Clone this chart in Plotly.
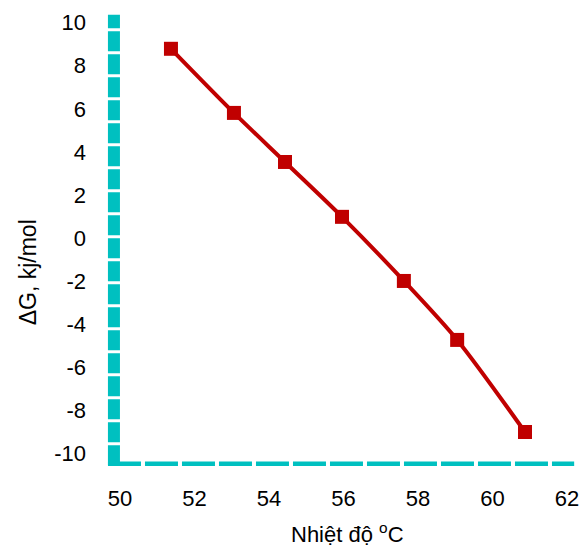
import plotly.graph_objects as go

temperature = [51.37, 53.06, 54.43, 55.96, 57.62, 59.05, 60.87]
delta_g = [8.79, 5.81, 3.53, 0.98, -2.0, -4.74, -9.02]
x_ticks = [50, 52, 54, 56, 58, 60, 62]
y_ticks = [10, 8, 6, 4, 2, 0, -2, -4, -6, -8, -10]
y_tick_text = ["10", "8", "6", "4", "2", "0", "-2", "-4", "-6", "-8", "-10"]

FONT = "Liberation Sans, Arial, sans-serif"
TEAL = "#00C0C0"
RED = "#C00000"

fig = go.Figure()
fig.add_trace(go.Scatter(
    x=temperature, y=delta_g, mode="lines+markers",
    line=dict(color=RED, width=4, shape="spline", smoothing=0.8),
    marker=dict(symbol="square", size=14, color=RED),
    showlegend=False,
))

# dashed axis lines
fig.add_shape(type="line", xref="x", yref="y", x0=49.84, x1=49.84, y0=-10.56, y1=10.37,
              line=dict(color=TEAL, width=12, dash="20px,3px"), layer="below")
fig.add_shape(type="line", xref="x", yref="y", x0=49.68, x1=62.19, y0=-10.62, y1=-10.62,
              line=dict(color=TEAL, width=10, dash="33px,4px"), layer="below")

tick_font = dict(family=FONT, size=22, color="black")

fig.update_layout(
    width=584, height=548,
    margin=dict(l=105, r=2, t=12, b=82, autoexpand=False),
    paper_bgcolor="white", plot_bgcolor="white",
    font=dict(family=FONT, size=22, color="black"),
    xaxis=dict(range=[49.6, 62.4], tickvals=x_ticks, showgrid=False, zeroline=False,
               showline=False, ticks="", ticklabelstandoff=17, tickfont=tick_font,
               automargin=False),
    yaxis=dict(range=[-10.6, 10.5], tickvals=y_ticks, ticktext=y_tick_text,
               showgrid=False, zeroline=False, automargin=False,
               showline=False, ticks="", ticklabelstandoff=18, tickfont=tick_font),
    annotations=[
        dict(text="ΔG, kj/mol", xref="paper", yref="paper", x=-0.161, y=0.427,
             textangle=-90, showarrow=False, font=dict(family=FONT, size=23),
             xanchor="center", yanchor="middle"),
        dict(text="Nhiệt độ <sup>o</sup>C", xref="paper", yref="paper",
             x=(347 - 105) / 477, y=-(533 - 466) / 454, showarrow=False,
             font=dict(family=FONT, size=22), xanchor="center", yanchor="middle"),
    ],
)

fig.write_html("out.html", config={"displayModeBar": False},
               post_script="document.body.style.margin='0';")
